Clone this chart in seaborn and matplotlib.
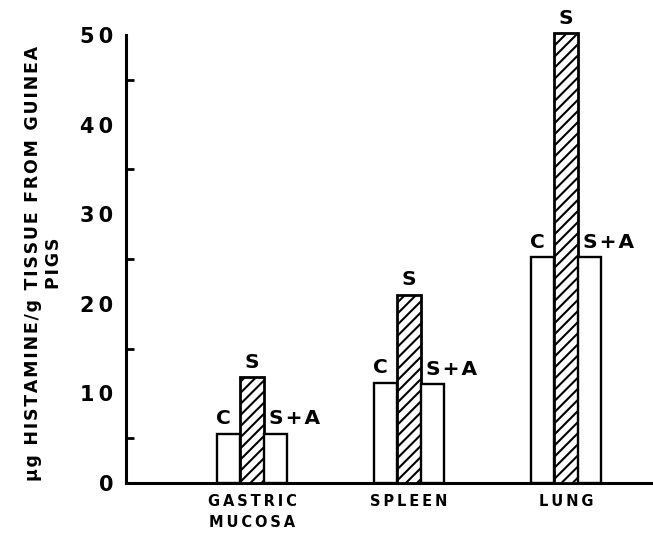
import matplotlib
matplotlib.use("Agg")
import matplotlib.pyplot as plt
import seaborn as sns
import pandas as pd

# Histamine content (µg/g tissue) per tissue and treatment group
tissues = ["GASTRIC\nMUCOSA", "SPLEEN", "LUNG"]
groups = ["C", "S", "S+A"]
c_vals = [5.5, 11.2, 25.2]
s_vals = [11.8, 21.0, 50.2]
sa_vals = [5.5, 11.0, 25.2]
y_ticks = [0, 10, 20, 30, 40, 50]
y_title = "\u03bcg HISTAMINE/g TISSUE FROM GUINEA\nPIGS"


def spaced(text, gap="\u2009"):
    """Open up the lettering with narrow spaces between characters."""
    return "\n".join(gap.join(line) for line in text.split("\n"))


rows = []
for grp, vals in zip(groups, [c_vals, s_vals, sa_vals]):
    for t, v in zip(tissues, vals):
        rows.append({"tissue": t, "group": grp, "value": v})
df = pd.DataFrame(rows)

sns.set_theme(style="white")
plt.rcParams["font.family"] = ["DejaVu Sans"]
plt.rcParams["hatch.linewidth"] = 1.5
plt.rcParams["hatch.color"] = "black"

fig = plt.figure(figsize=(6.53, 5.35), dpi=100)
ax = fig.add_axes([126 / 653, 52 / 535, 527 / 653, 457 / 535])

sns.barplot(
    data=df, x="tissue", y="value", hue="group",
    order=tissues, hue_order=groups,
    palette={"C": "white", "S": "white", "S+A": "white"},
    edgecolor="black", linewidth=1.7, width=0.45,
    legend=False, ax=ax, zorder=3,
)

# hatch the stimulated group
for patch in ax.containers[1]:
    patch.set_hatch("///")
    patch.set_linewidth(2.0)

# group letters above each bar
label_style = dict(fontsize=14.5, fontweight="bold", color="black")
for container, grp in zip(ax.containers, groups):
    for patch in container:
        x0 = patch.get_x()
        w = patch.get_width()
        h = patch.get_height()
        if grp == "C":
            ax.annotate(grp, (x0 + w / 2, h), xytext=(-4, 4),
                        textcoords="offset points", ha="center", va="bottom",
                        **label_style)
        elif grp == "S":
            ax.annotate(grp, (x0 + w / 2, h), xytext=(0, 4),
                        textcoords="offset points", ha="center", va="bottom",
                        **label_style)
        else:
            ax.annotate(spaced(grp, "\u200a"), (x0, h), xytext=(4, 4),
                        textcoords="offset points", ha="left", va="bottom",
                        **label_style)

ax.set_xlim(-0.803, 2.554)
ax.set_ylim(0, 51)
ax.set_yticks(y_ticks)
ax.set_yticklabels([spaced(str(v), "\u2009") for v in y_ticks])
ax.set_yticks([5, 15, 25, 35, 45], minor=True)
ax.set_xticks(range(len(tissues)))
ax.set_xticklabels([spaced(t) for t in tissues])
ax.spines["left"].set_bounds(0, 50)
for side in ["top", "right"]:
    ax.spines[side].set_visible(False)
for side in ["left", "bottom"]:
    ax.spines[side].set_linewidth(2.2)
    ax.spines[side].set_color("black")

ax.tick_params(axis="y", which="major", direction="in", length=9.5, width=2.0,
               pad=9, labelsize=15, colors="black")
ax.tick_params(axis="y", which="minor", direction="in", length=6, width=2.0,
               colors="black", left=True)
ax.tick_params(axis="x", length=0, pad=8, labelsize=10.5, colors="black")
for lbl in ax.get_yticklabels():
    lbl.set_fontweight("bold")
for lbl in ax.get_xticklabels():
    lbl.set_fontweight("bold")
    lbl.set_linespacing(1.5)

ax.set_xlabel("")
ax.set_ylabel(spaced(y_title, "\u200a"), fontsize=12.5, fontweight="bold",
              color="black", linespacing=1.2)
ax.yaxis.set_label_coords(-63 / 527, 0.48)

fig.savefig("out.png", dpi=100)
